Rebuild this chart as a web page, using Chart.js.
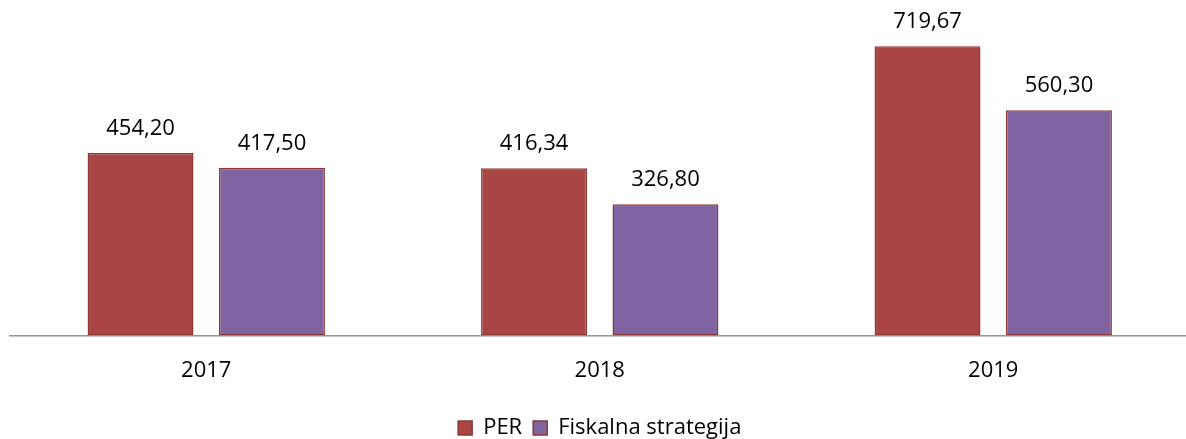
<!DOCTYPE html>
<html>
<head>
<meta charset="utf-8">
<script src="https://cdn.jsdelivr.net/npm/chart.js@4/dist/chart.umd.min.js"></script>
<style>
  html, body { margin: 0; padding: 0; background: #fff; overflow: hidden; }
  #wrap { position: relative; width: 1190px; height: 449px; }
</style>
</head>
<body>
<div id="wrap"><canvas id="c"></canvas></div>
<script>
const categories = ['2017', '2018', '2019'];
const perValues = [454.20, 416.34, 719.67];
const fiskalnaValues = [417.50, 326.80, 560.30];
const seriesNames = ['PER', 'Fiskalna strategija'];

const FONT = '"Open Sans", Lato, sans-serif';

const valueLabels = {
  id: 'valueLabels',
  afterDatasetsDraw(chart) {
    const ctx = chart.ctx;
    ctx.save();
    ctx.font = '22px ' + FONT;
    ctx.fillStyle = '#000';
    ctx.textAlign = 'center';
    ctx.textBaseline = 'alphabetic';
    chart.data.datasets.forEach((ds, di) => {
      const meta = chart.getDatasetMeta(di);
      meta.data.forEach((bar, i) => {
        const v = ds.data[i];
        ctx.fillText(v.toFixed(2).replace('.', ','), bar.x, bar.y - 18);
      });
    });
    ctx.restore();
  }
};

new Chart(document.getElementById('c'), {
  type: 'bar',
  data: {
    labels: categories,
    datasets: [
      {
        label: seriesNames[0],
        data: perValues,
        backgroundColor: '#A94543',
        borderColor: '#8C3836',
        borderWidth: 1.5,
        borderSkipped: false
      },
      {
        label: seriesNames[1],
        data: fiskalnaValues,
        backgroundColor: '#8064A2',
        borderColor: '#8C3836',
        borderWidth: 1.5,
        borderSkipped: false
      }
    ]
  },
  options: {
    responsive: true,
    maintainAspectRatio: false,
    animation: false,
    datasets: { bar: { categoryPercentage: 0.668, barPercentage: 0.806 } },
    layout: { padding: { top: 14, left: 9.5, right: 0, bottom: 0 } },
    scales: {
      x: {
        grid: { display: false, drawTicks: false },
        border: { display: true, color: '#969696', width: 1.5 },
        ticks: { color: '#000', font: { family: FONT, size: 22 }, padding: 22 }
      },
      y: {
        display: false,
        min: 0,
        max: 800
      }
    },
    plugins: {
      tooltip: { enabled: false },
      legend: {
        position: 'bottom',
        labels: {
          color: '#000',
          font: { family: FONT, size: 22 },
          boxWidth: 14,
          boxHeight: 14,
          padding: 11
        }
      }
    }
  },
  plugins: [valueLabels]
});
</script>
</body>
</html>
